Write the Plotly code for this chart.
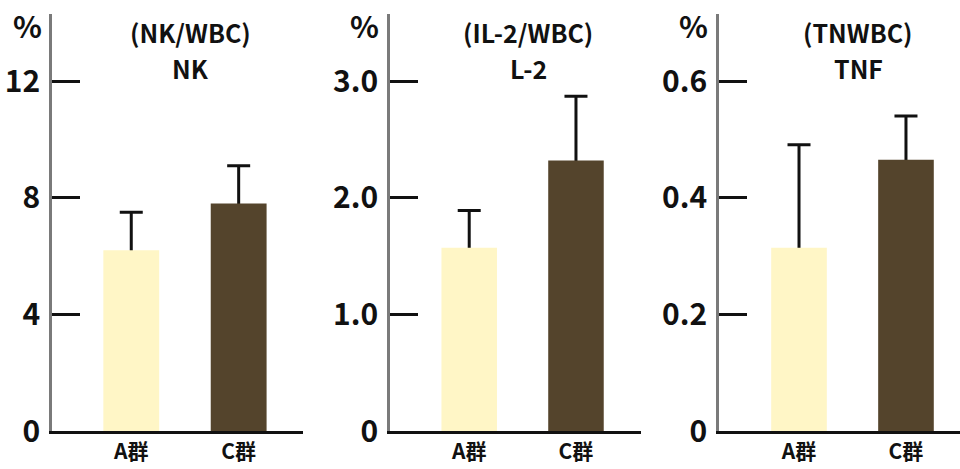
import plotly.graph_objects as go

groups = ["A群", "C群"]

nk_values = [6.2, 7.8]
nk_errors = [1.3, 1.3]
il2_values = [1.57, 2.32]
il2_errors = [0.32, 0.55]
tnf_values = [0.314, 0.465]
tnf_errors = [0.177, 0.075]

title_top = ["(NK/WBC)", "(IL-2/WBC)", "(TNWBC)"]
title_bottom = ["NK", "L-2", "TNF"]
tick_vals = [[0, 4, 8, 12], [0, 1, 2, 3], [0, 0.2, 0.4, 0.6]]
tick_text = [["0", "4", "8", "12"], ["0", "1.0", "2.0", "3.0"], ["0", "0.2", "0.4", "0.6"]]
y_max = [14.3, 3.575, 0.715]

bar_colors = ["#FFF6C6", "#54442C"]
W, H = 960, 469
FONT = "Noto Sans CJK JP, Noto Sans, sans-serif"

# pixel layout
x_left = [52, 390, 719]
x_right = [303, 641, 960]
x_ranges = [[-0.738, 1.599], [-0.742, 1.609], [-0.748, 1.505]]
y_bottom_px, y_top_px = 431, 14

fig = go.Figure()
series = [(nk_values, nk_errors), (il2_values, il2_errors), (tnf_values, tnf_errors)]
xpos = [0, 1]
for i, (vals, errs) in enumerate(series):
    sfx = "" if i == 0 else str(i + 1)
    # error bars (carried by a hidden bar drawn underneath the visible one)
    fig.add_trace(go.Bar(
        x=xpos, y=vals, width=0.52,
        marker=dict(color="rgba(0,0,0,0)", line=dict(width=0)),
        error_y=dict(type="data", symmetric=False, array=errs, arrayminus=vals,
                     color="#111111", thickness=3, width=11.5),
        xaxis="x" + sfx, yaxis="y" + sfx, showlegend=False, hoverinfo="skip"))
    fig.add_trace(go.Bar(
        x=xpos, y=vals, width=0.52,
        marker=dict(color=bar_colors, line=dict(width=0)),
        xaxis="x" + sfx, yaxis="y" + sfx, showlegend=False))

layout = dict(
    width=W, height=H, margin=dict(l=0, r=0, t=0, b=0, autoexpand=False),
    plot_bgcolor="white", paper_bgcolor="white",
    barmode="overlay", showlegend=False,
    font=dict(family=FONT, color="#111111"),
)
annotations = []
for i in range(3):
    sfx = "" if i == 0 else str(i + 1)
    xd = [x_left[i] / W, min(1.0, x_right[i] / W)]
    yd = [(H - y_bottom_px) / H, (H - y_top_px) / H]
    layout["xaxis" + sfx] = dict(
        domain=xd, range=x_ranges[i], anchor="y" + sfx,
        tickmode="array", tickvals=xpos, ticktext=groups,
        showline=True, linecolor="#111111", linewidth=2.5,
        ticks="", showgrid=False, zeroline=False, automargin=False,
        tickfont=dict(size=21, family=FONT, weight="bold"),
        ticklabelstandoff=0, fixedrange=True,
    )
    layout["yaxis" + sfx] = dict(
        domain=yd, range=[0, y_max[i]], anchor="x" + sfx,
        tickmode="array", tickvals=tick_vals[i], ticktext=tick_text[i],
        showline=True, linecolor="#7a7a7a", linewidth=2.5,
        ticks="inside", ticklen=28, tickwidth=2.5, tickcolor="#111111",
        showgrid=False, zeroline=False, automargin=False,
        tickfont=dict(size=30, family=FONT, weight="bold"),
        ticklabelstandoff=3, fixedrange=True,
    )
    annotations.append(dict(
        text="%", xref="paper", yref="paper",
        x=(x_left[i] - 9) / W, y=(H - 25) / H, xanchor="right", yanchor="middle",
        showarrow=False, font=dict(size=30, family=FONT, weight="bold")))
annotations[0]["x"] = 44 / W
title_cx = [190, 528, 858]
for i in range(3):
    annotations.append(dict(
        text=title_top[i], xref="paper", yref="paper",
        x=title_cx[i] / W, y=(H - 32) / H, xanchor="center", yanchor="middle",
        showarrow=False, font=dict(size=25, family=FONT, weight="bold")))
    annotations.append(dict(
        text=title_bottom[i], xref="paper", yref="paper",
        x=title_cx[i] / W, y=(H - 68) / H, xanchor="center", yanchor="middle",
        showarrow=False, font=dict(size=25, family=FONT, weight="bold")))
layout["annotations"] = annotations
fig.update_layout(**layout)
fig.write_html("out.html")
